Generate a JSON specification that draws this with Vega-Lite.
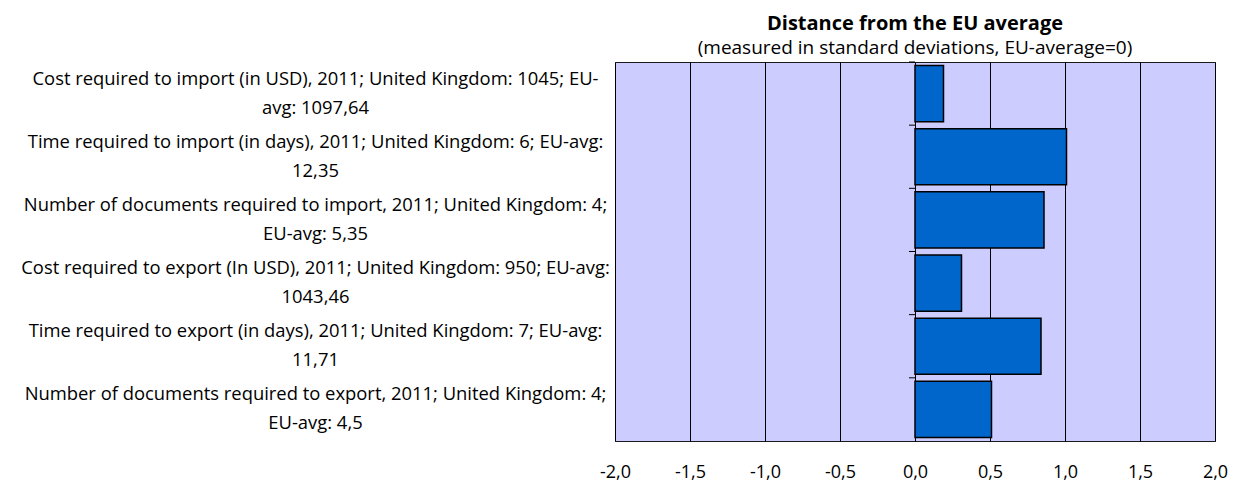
{
  "$schema": "https://vega.github.io/schema/vega-lite/v6.json",
  "autosize": "none",
  "width": 600,
  "height": 379,
  "padding": {"left": 615, "top": 62, "right": 22, "bottom": 45},
  "background": "white",
  "config": {
    "font": "Open Sans",
    "view": {"fill": "#CCCCFF", "stroke": "#1a1a1a", "strokeWidth": 1},
    "locale": {
      "number": {"decimal": ",", "thousands": ".", "grouping": [3], "currency": ["", " €"], "minus": "-"}
    }
  },
  "title": {
    "text": "Distance from the EU average",
    "subtitle": "(measured in standard deviations, EU-average=0)",
    "anchor": "middle",
    "frame": "group",
    "font": "Open Sans",
    "fontSize": 20,
    "fontWeight": "bold",
    "color": "#000000",
    "subtitleFont": "Open Sans",
    "subtitleFontSize": 19,
    "subtitleColor": "#000000",
    "subtitlePadding": 5,
    "offset": 3
  },
  "data": {
    "values": [
      {"label": "Cost required to import (in USD), 2011; United Kingdom: 1045; EU-\navg: 1097,64", "value": 0.19},
      {"label": "Time required to import (in days), 2011; United Kingdom: 6; EU-avg:\n12,35", "value": 1.01},
      {"label": "Number of documents required to import, 2011; United Kingdom: 4;\nEU-avg: 5,35", "value": 0.86},
      {"label": "Cost required to export (In USD), 2011; United Kingdom: 950; EU-avg:\n1043,46", "value": 0.31},
      {"label": "Time required to export (in days), 2011; United Kingdom: 7; EU-avg:\n11,71", "value": 0.84},
      {"label": "Number of documents required to export, 2011; United Kingdom: 4;\nEU-avg: 4,5", "value": 0.51}
    ]
  },
  "encoding": {
    "y": {
      "field": "label",
      "type": "nominal",
      "sort": null,
      "scale": {"paddingInner": 0.11, "paddingOuter": 0.055},
      "axis": {
        "title": null,
        "ticks": false,
        "domain": false,
        "grid": false,
        "labelAlign": "center",
        "labelBaseline": "middle",
        "labelPadding": 300,
        "labelOffset": -15,
        "labelLimit": 0,
        "labelFont": "Open Sans",
        "labelFontSize": 18.4,
        "labelColor": "#000000",
        "labelLineHeight": 29,
        "labelExpr": "split(datum.label, '\\n')"
      }
    }
  },
  "layer": [
    {
      "mark": {"type": "bar", "color": "#0066CC", "stroke": "#000000", "strokeWidth": 1.5},
      "encoding": {
        "x": {
          "field": "value",
          "type": "quantitative",
          "scale": {"domain": [-2, 2], "nice": false, "zero": false},
          "axis": {
            "title": null,
            "values": [-2, -1.5, -1, -0.5, 0, 0.5, 1, 1.5, 2],
            "format": ".1f",
            "grid": true,
            "gridColor": "#000000",
            "gridOpacity": 1,
            "gridWidth": 1,
            "ticks": false,
            "domain": false,
            "labelPadding": 22,
            "labelFont": "Open Sans",
            "labelFontSize": 18,
            "labelColor": "#000000",
            "labelFlush": false
          }
        }
      }
    },
    {
      "mark": {"type": "rule", "color": "#000000", "strokeWidth": 1},
      "encoding": {
        "x": {"datum": -0.04, "type": "quantitative"},
        "x2": {"datum": 0},
        "y": {"field": "label", "type": "nominal", "sort": null, "bandPosition": -0.062}
      }
    }
  ]
}
